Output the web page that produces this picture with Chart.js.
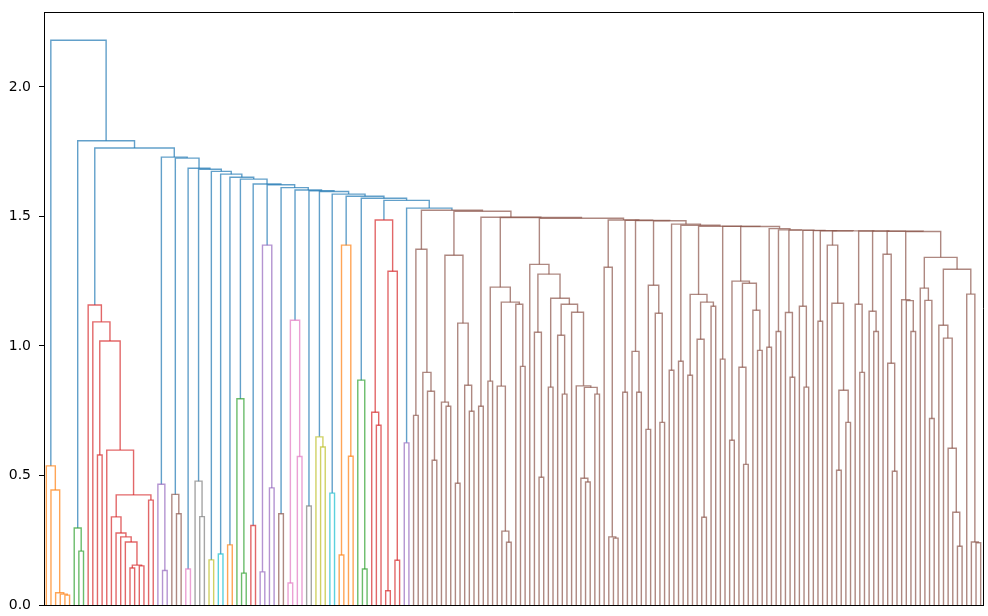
<!DOCTYPE html>
<html>
<head>
<meta charset="utf-8">
<script src="https://cdn.jsdelivr.net/npm/chart.js@4.4.1/dist/chart.umd.min.js"></script>
<style>
  html, body { margin: 0; padding: 0; background: #fff; }
  #wrap { width: 988px; height: 616px; }
</style>
</head>
<body>
<div id="wrap"><canvas id="dendro" width="988" height="616"></canvas></div>
<script>
// a subtree is 0 (a leaf) or [merge height, left, right]

// clusters joined along the blue chain, left to right
const orange1 = [0.537, 0, [0.444, 0, [0.047, 0, [0.042, 0, [0.038, 0, 0]]]]];
const green1 = [0.297, 0, [0.208, 0, 0]];
const red1 = [1.158, 0, [1.093, 0, [1.019, [0.579, 0, 0],
  [0.598, 0, [0.425, [0.340, 0, [0.278, 0, [0.263, 0, [0.243, 0,
    [0.154, [0.143, 0, 0], [0.151, 0, 0]]]]]], [0.405, 0, 0]]]]]];
const purple1 = [0.466, 0, [0.133, 0, 0]];
const brown1 = [0.427, 0, [0.352, 0, 0]];
const pink1 = [0.139, 0, 0];
const gray1 = [0.478, 0, [0.341, 0, 0]];
const olive1 = [0.174, 0, 0];
const cyan1 = [0.197, 0, 0];
const orange2 = [0.232, 0, 0];
const green2 = [0.796, 0, [0.123, 0, 0]];
const red2 = [0.307, 0, 0];
const purple2 = [1.389, [0.128, 0, 0], [0.452, 0, 0]];
const brown2 = [0.352, 0, 0];
const pink2 = [1.099, [0.085, 0, 0], [0.573, 0, 0]];
const gray2 = [0.382, 0, 0];
const olive2 = [0.649, 0, [0.610, 0, 0]];
const cyan2 = [0.432, 0, 0];
const orange3 = [1.389, [0.193, 0, 0], [0.574, 0, 0]];
const green3 = [0.868, 0, [0.139, 0, 0]];
const red3 = [1.486, [0.744, 0, [0.694, 0, 0]], [1.288, [0.055, 0, 0], [0.173, 0, 0]]];
const purple3 = [0.626, 0, 0];

// pieces of the big brown cluster, left to right
const b01 = [1.373, [0.732, 0, 0], [0.898, 0, [0.825, 0, [0.559, 0, 0]]]];
const b02 = [1.350, [0.783, 0, [0.767, 0, 0]], [1.088, [0.470, 0, 0], [0.848, 0, [0.748, 0, 0]]]];
const b03 = [0.767, 0, 0];
const b04 = [1.227, [0.864, 0, 0], [1.169, [0.845, 0, [0.285, 0, [0.242, 0, 0]]], [1.161, 0, [0.921, 0, 0]]]];
const b05 = [1.315, 0, [1.277, [1.053, 0, [0.493, 0, 0]], [1.184, [0.841, 0, 0],
  [1.161, [1.041, 0, [0.814, 0, 0]], [1.130, 0, [0.846, 0, [0.840, [0.489, 0, [0.475, 0, 0]], [0.814, 0, 0]]]]]]]];
const b06 = [1.304, 0, [0.263, 0, [0.258, 0, 0]]];
const b07 = [0.821, 0, 0];
const b08 = [0.979, 0, [0.821, 0, 0]];
const b09 = [1.234, [0.678, 0, 0], [1.126, 0, [0.705, 0, 0]]];
const b10 = [0.906, 0, 0];
const b11 = [0.941, 0, 0];
const b12 = [1.199, [0.887, 0, 0], [1.169, [1.026, 0, [0.339, 0, 0]], [1.153, 0, 0]]];
const b13 = [0.949, 0, 0];
const b14 = [1.250, [0.636, 0, 0], [1.242, [0.918, 0, [0.543, 0, 0]], [1.138, 0, [0.983, 0, 0]]]];
const b15 = [0.995, 0, 0];
const b16 = [1.056, 0, 0];
const b17 = [1.129, 0, [0.879, 0, 0]];
const b18 = [1.153, 0, [0.841, 0, 0]];
const b19 = 0;
const b20 = [1.095, 0, 0];
const b21 = [1.389, 0, [1.165, 0, [0.829, [0.520, 0, 0], [0.705, 0, 0]]]];
const b22 = [1.161, 0, [0.898, 0, 0]];
const b23 = [1.134, 0, [1.056, 0, 0]];
const b24 = [1.354, 0, [0.933, 0, [0.516, 0, 0]]];
const b25 = [1.178, 0, [1.175, 0, [1.056, 0, 0]]];
const b26 = [1.342, [1.223, 0, [1.176, 0, [0.720, 0, 0]]],
  [1.296, [1.080, 0, [1.030, 0, [0.605, 0, [0.358, 0, [0.227, 0, 0]]]]], [1.200, 0, [0.243, 0, [0.240, 0, 0]]]]];

const brownParts = [b01, b02, b03, b04, b05, b06, b07, b08, b09, b10, b11, b12, b13,
  b14, b15, b16, b17, b18, b19, b20, b21, b22, b23, b24, b25, b26];
const brownHeights = [1.524, 1.520, 1.497, 1.496, 1.493, 1.486, 1.485, 1.484, 1.483,
  1.470, 1.466, 1.462, 1.4615, 1.461, 1.453, 1.448, 1.447, 1.446, 1.445, 1.4445,
  1.444, 1.4435, 1.443, 1.4425, 1.442];

const chainHeights = [2.180, 1.792, 1.764, 1.729, 1.725, 1.686, 1.682, 1.674, 1.663,
  1.651, 1.644, 1.625, 1.622, 1.611, 1.602, 1.599, 1.596, 1.586, 1.578, 1.570, 1.562, 1.532];

const yTicks = [0, 0.5, 1.0, 1.5, 2.0];

const palette = ["rgba(255,127,14,0.7)", "rgba(44,160,44,0.7)", "rgba(214,39,40,0.7)",
  "rgba(148,103,189,0.7)", "rgba(140,86,75,0.7)", "rgba(227,119,194,0.7)",
  "rgba(127,127,127,0.7)", "rgba(188,189,34,0.7)", "rgba(23,190,207,0.7)"];
const aboveColor = "rgba(31,119,180,0.7)";

function comb(parts, heights) {
  let node = parts[parts.length - 1];
  for (let i = parts.length - 2; i >= 0; i--) node = [heights[i], parts[i], node];
  return node;
}

const brownBig = comb(brownParts, brownHeights);
const tree = comb([orange1, green1, red1, purple1, brown1, pink1, gray1, olive1, cyan1,
  orange2, green2, red2, purple2, brown2, pink2, gray2, olive2, cyan2,
  orange3, green3, red3, purple3, brownBig], chainHeights);

const topHeight = chainHeights[0];
const threshold = 0.7 * topHeight;

let leafCount = 0;
let colorIdx = 0;
const links = [];

function place(node, color) {
  if (node === 0) {
    const x = 5 + 10 * leafCount;
    leafCount++;
    return { x: x, y: 0 };
  }
  const h = node[0];
  let c = color;
  if (!c && h < threshold) {
    c = palette[colorIdx % palette.length];
    colorIdx++;
  }
  const a = place(node[1], c);
  const b = place(node[2], c);
  links.push({
    pts: [{ x: a.x, y: a.y }, { x: a.x, y: h }, { x: b.x, y: h }, { x: b.x, y: b.y }],
    color: c || aboveColor
  });
  return { x: (a.x + b.x) / 2, y: h };
}
place(tree, null);

const frame = {
  id: "frame",
  afterDraw(chart) {
    const a = chart.chartArea;
    const g = chart.ctx;
    g.save();
    g.strokeStyle = "#000";
    g.lineWidth = 1;
    g.beginPath();
    g.moveTo(a.left, a.top + 0.5);
    g.lineTo(a.right + 0.5, a.top + 0.5);
    g.lineTo(a.right + 0.5, a.bottom);
    g.stroke();
    g.restore();
  }
};

const ctx = document.getElementById("dendro").getContext("2d");
new Chart(ctx, {
  type: "line",
  data: {
    datasets: links.map(k => ({
      data: k.pts,
      borderColor: k.color,
      borderWidth: 1.4,
      pointRadius: 0,
      fill: false,
      tension: 0
    }))
  },
  options: {
    responsive: false,
    animation: false,
    devicePixelRatio: 1,
    layout: { padding: { top: 12, right: 5, bottom: 0, left: 0 } },
    plugins: { legend: { display: false }, tooltip: { enabled: false } },
    scales: {
      x: {
        type: "linear",
        min: 0,
        max: 10 * leafCount,
        grid: { display: false, drawTicks: false },
        ticks: { display: false },
        border: { display: true, color: "#000", width: 1 },
        afterFit(s) { s.height = 11; }
      },
      y: {
        type: "linear",
        min: 0,
        max: topHeight * 1.05,
        afterBuildTicks(s) { s.ticks = yTicks.map(v => ({ value: v })); },
        ticks: {
          callback: v => v.toFixed(1),
          color: "#000",
          padding: 8,
          font: { family: "DejaVu Sans", size: 14 }
        },
        grid: { drawOnChartArea: false, drawTicks: true, tickLength: 5, tickColor: "#000", tickWidth: 1 },
        border: { display: true, color: "#000", width: 1 },
        afterFit(s) {
          s.width = 44;
          s.paddingTop = 0;
          s.paddingBottom = 0;
        }
      }
    }
  },
  plugins: [frame]
});
</script>
</body>
</html>
